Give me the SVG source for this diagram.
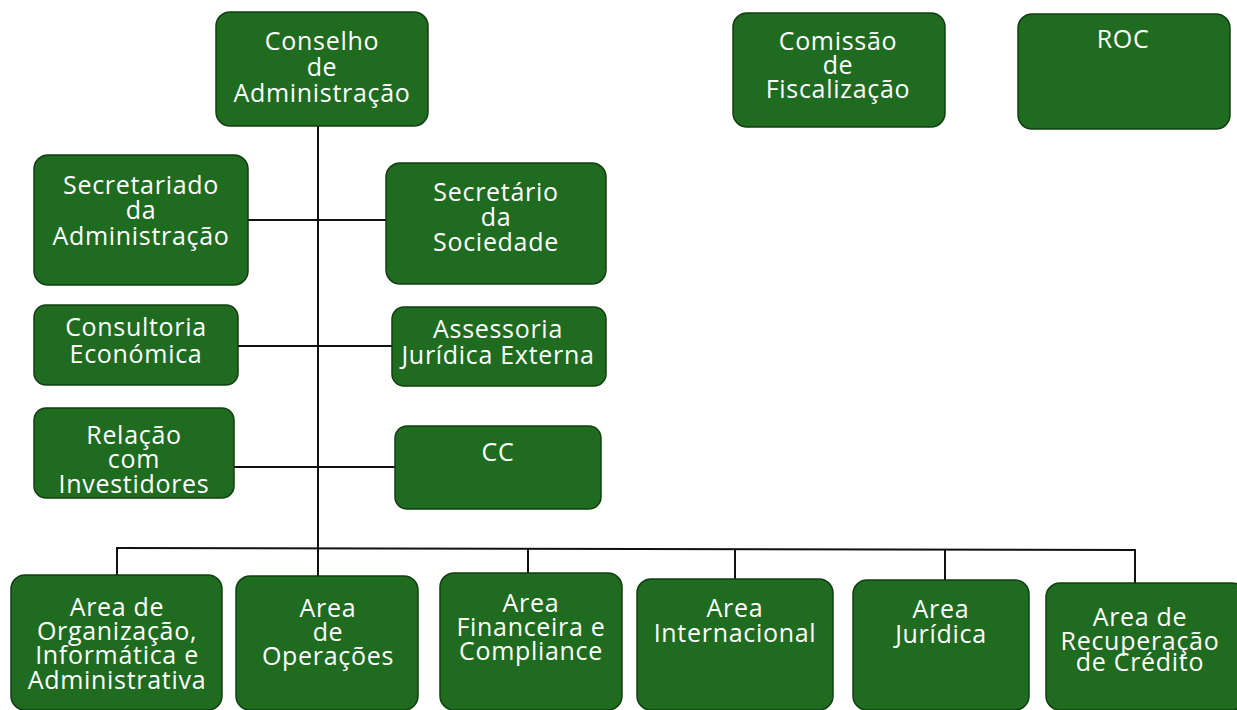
<svg xmlns="http://www.w3.org/2000/svg" width="1237" height="710" viewBox="0 0 1237 710">
<style>
.n rect{fill:#1f6b1f;stroke:#123f12;stroke-width:1.5}
.n text{fill:#ffffff;font-family:"Open Sans","Liberation Sans",sans-serif;font-size:25px;text-anchor:middle;letter-spacing:0.7px}
.c line{stroke:#111;stroke-width:2}
</style>
<rect width="1237" height="710" fill="#ffffff"/>
<g class="c" id="connectors">
<line x1="318" y1="126" x2="318" y2="549"/>
<line x1="248" y1="220" x2="386" y2="220"/>
<line x1="238" y1="346" x2="392" y2="346"/>
<line x1="234" y1="467" x2="395" y2="467"/>
<line x1="116" y1="548" x2="1136" y2="550"/>
<line x1="117" y1="548" x2="117" y2="576"/>
<line x1="318" y1="548" x2="318" y2="577"/>
<line x1="528" y1="549" x2="528" y2="574"/>
<line x1="735" y1="549" x2="735" y2="580"/>
<line x1="945" y1="550" x2="945" y2="581"/>
<line x1="1135" y1="550" x2="1135" y2="584"/>
</g>
<g class="n" id="conselho"><rect x="216" y="12" width="212" height="114" rx="14"/><text x="322" y="50">Conselho</text><text x="322" y="76">de</text><text x="322" y="102">Administração</text></g>
<g class="n" id="comissao"><rect x="733" y="13" width="212" height="114" rx="14"/><text x="838" y="50">Comissão</text><text x="838" y="74">de</text><text x="838" y="98">Fiscalização</text></g>
<g class="n" id="roc"><rect x="1018" y="14" width="212" height="115" rx="14"/><text x="1123" y="48">ROC</text></g>
<g class="n" id="secretariado"><rect x="34" y="155" width="214" height="130" rx="14"/><text x="141" y="194">Secretariado</text><text x="141" y="219">da</text><text x="141" y="245">Administração</text></g>
<g class="n" id="secretario"><rect x="386" y="163" width="220" height="121" rx="14"/><text x="496" y="201">Secretário</text><text x="496" y="226">da</text><text x="496" y="251">Sociedade</text></g>
<g class="n" id="consultoria"><rect x="34" y="305" width="204" height="80" rx="12"/><text x="136" y="336">Consultoria</text><text x="136" y="363">Económica</text></g>
<g class="n" id="assessoria"><rect x="392" y="307" width="214" height="79" rx="12"/><text x="498" y="338">Assessoria</text><text x="498" y="364">Jurídica Externa</text></g>
<g class="n" id="relacao"><rect x="34" y="408" width="200" height="90" rx="12"/><text x="134" y="444">Relação</text><text x="134" y="468">com</text><text x="134" y="493">Investidores</text></g>
<g class="n" id="cc"><rect x="395" y="426" width="206" height="83" rx="12"/><text x="498" y="461">CC</text></g>
<g class="n" id="area-org"><rect x="11" y="575" width="211" height="135" rx="14"/><text x="117" y="616">Area de</text><text x="117" y="640">Organização,</text><text x="117" y="664">Informática e</text><text x="117" y="689">Administrativa</text></g>
<g class="n" id="area-op"><rect x="236" y="576" width="182" height="134" rx="14"/><text x="328" y="617">Area</text><text x="328" y="641">de</text><text x="328" y="665">Operações</text></g>
<g class="n" id="area-fin"><rect x="440" y="573" width="182" height="137" rx="14"/><text x="531" y="612">Area</text><text x="531" y="636">Financeira e</text><text x="531" y="660">Compliance</text></g>
<g class="n" id="area-int"><rect x="637" y="579" width="196" height="131" rx="14"/><text x="735" y="617">Area</text><text x="735" y="642">Internacional</text></g>
<g class="n" id="area-jur"><rect x="853" y="580" width="176" height="130" rx="14"/><text x="941" y="618">Area</text><text x="941" y="643">Jurídica</text></g>
<g class="n" id="area-rec"><rect x="1046" y="583" width="200" height="127" rx="14"/><text x="1140" y="626">Area de</text><text x="1140" y="650">Recuperação</text><text x="1140" y="671">de Crédito</text></g>
</svg>
